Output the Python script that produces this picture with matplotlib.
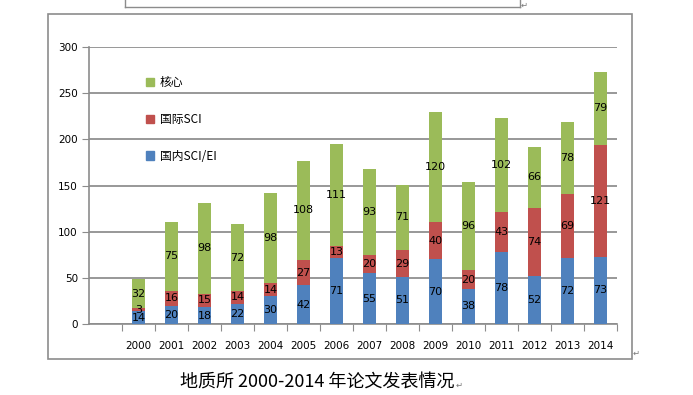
import numpy as np
import matplotlib.pyplot as plt
from matplotlib.patches import Rectangle
from matplotlib.lines import Line2D

plt.rcParams['font.family'] = ['Noto Sans CJK SC', 'DejaVu Sans']

# dati
years = ['2000', '2001', '2002', '2003', '2004', '2005', '2006', '2007',
         '2008', '2009', '2010', '2011', '2012', '2013', '2014']
domestic = [14, 20, 18, 22, 30, 42, 71, 55, 51, 70, 38, 78, 52, 72, 73]
intl_sci = [3, 16, 15, 14, 14, 27, 13, 20, 29, 40, 20, 43, 74, 69, 121]
core = [32, 75, 98, 72, 98, 108, 111, 93, 71, 120, 96, 102, 66, 78, 79]
series_names = ['国内SCI/EI', '国际SCI', '核心']
colors = ['#4F81BD', '#C0504D', '#9BBB59']
caption = '地质所 2000-2014 年论文发表情况'

W, H = 693, 395
fig = plt.figure(figsize=(W / 100, H / 100), dpi=100)

def fx(px):
    return px / W

def fy(py):
    return 1 - py / H

# cornice del grafico e pezzo di tabella sopra
grey = '#8C8C8C'
fig.patches.append(Rectangle((fx(48), fy(359)), fx(632) - fx(48), fy(14) - fy(359),
                             transform=fig.transFigure, fill=False, ec=grey, lw=1.2))
fig.lines.append(Line2D([fx(125), fx(520)], [fy(6.5), fy(6.5)], transform=fig.transFigure, color=grey, lw=1))
fig.lines.append(Line2D([fx(125), fx(125)], [fy(0), fy(6.5)], transform=fig.transFigure, color=grey, lw=1))
fig.lines.append(Line2D([fx(520), fx(520)], [fy(0), fy(6.5)], transform=fig.transFigure, color=grey, lw=1))
fig.text(fx(521), fy(5), '↵', fontsize=6, color='#777777', va='center', ha='left')
fig.text(fx(633), fy(353), '↵', fontsize=6, color='#777777', va='center', ha='left')

ax = fig.add_axes([fx(89), fy(324), fx(617) - fx(89), fy(47) - fy(324)])

x = np.arange(len(years))
w = 0.4
bottom = np.zeros(len(years))
for vals, name, c in zip([domestic, intl_sci, core], series_names, colors):
    vals = np.array(vals)
    ax.bar(x, vals, w, bottom=bottom, color=c, label=name, zorder=3)
    for xi, v, b0 in zip(x, vals, bottom):
        ax.text(xi, b0 + v / 2, str(v), ha='center', va='center', fontsize=8,
                family='DejaVu Sans', zorder=4)
    bottom = bottom + vals

ax.set_xlim(-1.5, 14.5)
ax.set_ylim(0, 300)
ax.set_yticks(range(0, 301, 50))
ax.yaxis.grid(True, color='#868686', lw=1.2, zorder=0)
ax.set_xticks(np.arange(-0.5, 15, 1))
ax.set_xticklabels([])
ax.set_xticks(x, minor=True)
ax.set_xticklabels(years, minor=True, fontsize=7.5, family='DejaVu Sans')
ax.tick_params(axis='x', which='major', length=5, color=grey, direction='out')
ax.tick_params(axis='x', which='minor', length=0, pad=12)
ax.tick_params(axis='y', length=5, color=grey, labelsize=7.5, pad=3)
for lab in ax.get_yticklabels():
    lab.set_family('DejaVu Sans')
for s in ['top', 'right']:
    ax.spines[s].set_visible(False)
for s in ['left', 'bottom']:
    ax.spines[s].set_color(grey)
    ax.spines[s].set_linewidth(1.2)

handles = [Rectangle((0, 0), 1, 1, color=c) for c in colors][::-1]
ax.legend(handles, series_names[::-1], loc='upper left', bbox_to_anchor=(0.097, 0.915),
          frameon=False, fontsize=8.5, labelspacing=2.0, handlelength=0.7,
          handleheight=0.7, handletextpad=0.45, borderpad=0)

fig.text(fx(180), fy(383), caption, fontsize=13, va='center', ha='left')
fig.text(fx(456), fy(385), '↵', fontsize=6, color='#777777', va='center', ha='left')

fig.savefig('out.png', dpi=100)
